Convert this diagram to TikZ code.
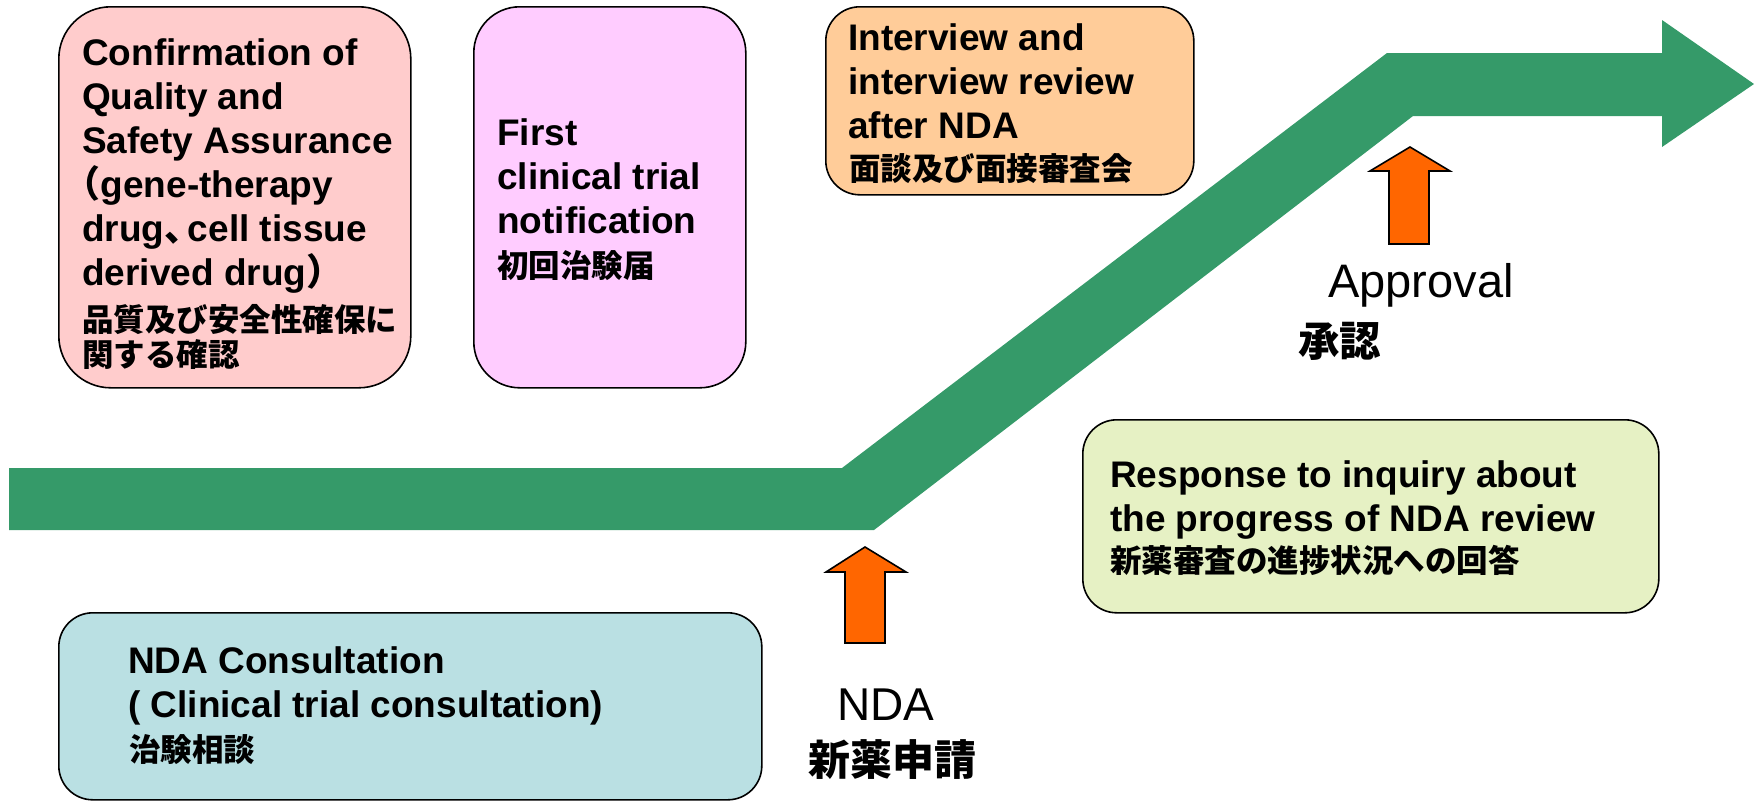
\documentclass[tikz,border=0pt]{standalone}
\usepackage{fontspec}
\setmainfont{Liberation Sans}
\newfontfamily\jp{Noto Sans CJK JP}
\newfontfamily\jphalf{Noto Sans CJK JP}[RawFeature=+halt]

\definecolor{bandgreen}{HTML}{359A69}
\definecolor{arroworange}{HTML}{FF6600}
\definecolor{pinkfill}{HTML}{FFCCCC}
\definecolor{violetfill}{HTML}{FFCCFF}
\definecolor{peachfill}{HTML}{FFCC99}
\definecolor{limefill}{HTML}{E6F1C4}
\definecolor{tealfill}{HTML}{BAE0E3}

% multi-line text nodes are placed at the baseline of their last line
\tikzset{
  panel/.style={draw=black, line width=1.6pt, anchor=north west, inner sep=0pt},
  entext/.style={anchor=base west, inner sep=0pt, align=left,
    font=\bfseries\fontsize{37}{44}\selectfont},
  jatext/.style={anchor=base west, inner sep=0pt, align=left,
    font=\jp\bfseries\fontsize{31.5}{35}\selectfont},
  milestone/.style={anchor=base west, inner sep=0pt},
  uparrow/.style={draw=black, line width=1.6pt, fill=arroworange, line join=miter},
}

\begin{document}
\begin{tikzpicture}[x=1pt, y=-1pt]
\useasboundingbox (0,0) rectangle (1761,801);

% rising process band
\fill[bandgreen] (9,468) -- (842,468) -- (1387,53) -- (1662,53) -- (1662,20)
  -- (1754,84) -- (1662,147) -- (1662,116) -- (1413,116) -- (874,530)
  -- (9,530) -- cycle;

% consultation panels
\node[panel, fill=pinkfill, rounded corners=52pt, minimum width=352pt, minimum height=381pt] (quality) at (58,6) {};
\node[panel, fill=violetfill, rounded corners=46pt, minimum width=272pt, minimum height=381pt] (firsttrial) at (473,6) {};
\node[panel, fill=peachfill, rounded corners=34pt, minimum width=368pt, minimum height=188pt] (interview) at (825,6) {};
\node[panel, fill=limefill, rounded corners=34pt, minimum width=576pt, minimum height=193pt] (inquiry) at (1082,419) {};
\node[panel, fill=tealfill, rounded corners=34pt, minimum width=703pt, minimum height=187pt] (consult) at (58,612) {};

% panel texts
\node[entext] (qualityen) at (82,285) {Confirmation of\\Quality and\\Safety Assurance\\{\jphalf （}gene-therapy\\drug{\jphalf 、}\kern5pt cell tissue\\derived drug{\jphalf ）}};
\node[jatext] (qualityja) at (82,366) {品質及び安全性確保に\\関する確認};

\node[entext] (firsttrialen) at (497,233) {First\\clinical trial\\notification};
\node[jatext] (firsttrialja) at (497,277) {初回治験届};

\node[entext] (interviewen) at (848,138) {Interview and\\interview review\\after NDA};
\node[jatext] (interviewja) at (849,180) {面談及び面接審査会};

\node[entext] (inquiryen) at (1110,531) {Response to inquiry about\\the progress of NDA review};
\node[jatext] (inquiryja) at (1110,572) {新薬審査の進捗状況への回答};

\node[entext] (consulten) at (128,717) {NDA Consultation\\( Clinical trial consultation)};
\node[jatext] (consultja) at (129,761) {治験相談};

% milestone arrows
\draw[uparrow] (845,643) -- (845,572) -- (826,572) -- (865,547) -- (906,572)
  -- (885,572) -- (885,643) -- cycle;
\draw[uparrow] (1389,244) -- (1389,171) -- (1370,171) -- (1410,147) -- (1450,171)
  -- (1429,171) -- (1429,244) -- cycle;

% milestone labels
\node[milestone, font=\fontsize{47}{50}\selectfont] (approval) at (1328,297) {Approval};
\node[milestone, font=\jp\bfseries\fontsize{41.5}{45}\selectfont] (approvalja) at (1298,356) {承認};
\node[milestone, font=\fontsize{46}{50}\selectfont] (nda) at (837,720) {NDA};
\node[milestone, font=\jp\bfseries\fontsize{42}{45}\selectfont] (ndaja) at (808,775) {新薬申請};
\end{tikzpicture}
\end{document}
